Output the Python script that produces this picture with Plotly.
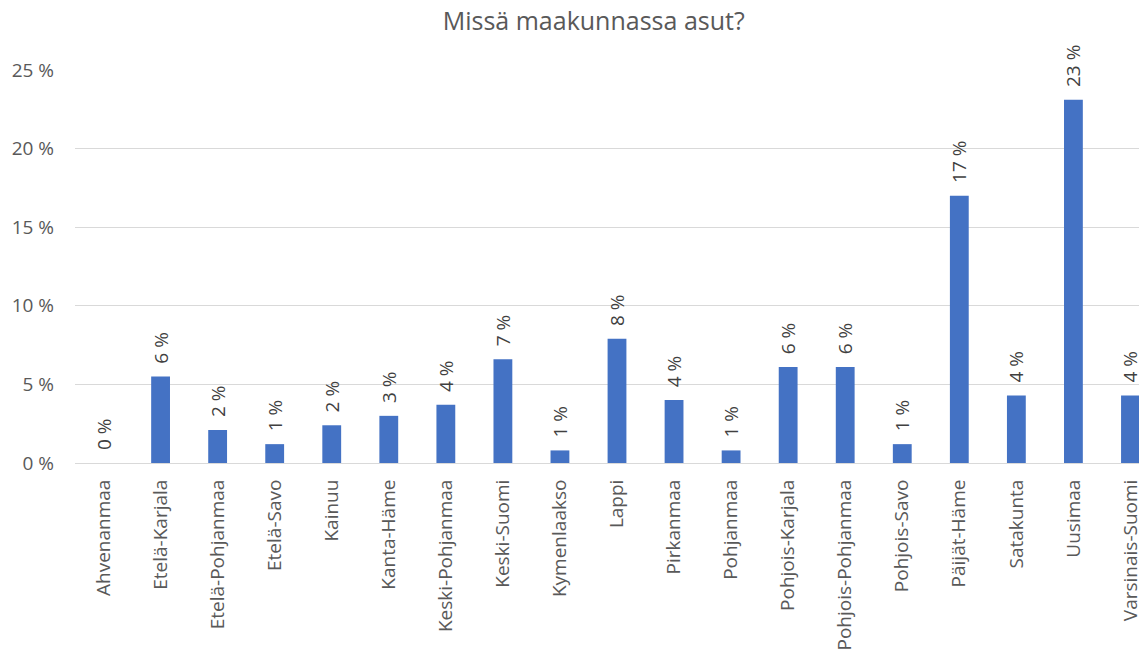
import plotly.graph_objects as go

regions = [
    "Ahvenanmaa", "Etelä-Karjala", "Etelä-Pohjanmaa", "Etelä-Savo", "Kainuu",
    "Kanta-Häme", "Keski-Pohjanmaa", "Keski-Suomi", "Kymenlaakso", "Lappi",
    "Pirkanmaa", "Pohjanmaa", "Pohjois-Karjala", "Pohjois-Pohjanmaa",
    "Pohjois-Savo", "Päijät-Häme", "Satakunta", "Uusimaa", "Varsinais-Suomi",
]
shares = [
    0.0, 5.5, 2.1, 1.2, 2.4,
    3.0, 3.7, 6.6, 0.8, 7.9,
    4.0, 0.8, 6.1, 6.1,
    1.2, 17.0, 4.3, 23.1, 4.3,
]
y_ticks = [0, 5, 10, 15, 20, 25]
y_tick_labels = [f"{v} %" for v in y_ticks]

FONT = "Open Sans, Calibri, sans-serif"

fig = go.Figure(
    go.Bar(
        x=regions,
        y=shares,
        marker=dict(color="#4472c4", line=dict(width=0)),
        # leading nbsp lifts the rotated label off the bar top
        texttemplate="\u00a0\u00a0%{y:.0f} %",
        textposition="outside",
        textangle=-90,
        constraintext="none",
        cliponaxis=False,
        textfont=dict(family=FONT, size=19, color="#404040"),
    )
)

# page has an 8px body margin; the plot runs a little past the right edge,
# as in the reference
fig.update_layout(
    width=1153,
    height=649,
    plot_bgcolor="white",
    paper_bgcolor="white",
    margin=dict(l=67, r=2, t=62, b=194),
    bargap=0.67,
    showlegend=False,
    font=dict(family=FONT, size=17, color="#595959"),
    title=dict(
        text="Missä maakunnassa asut?",
        x=0.508,
        xanchor="center",
        y=0.993,
        yanchor="top",
        pad=dict(t=0),
        font=dict(family=FONT, size=25, color="#595959"),
    ),
)
fig.update_xaxes(
    tickangle=-90,
    showline=True,
    linecolor="#d9d9d9",
    linewidth=1,
    ticks="",
    ticklabelstandoff=8,
    tickfont=dict(size=19, color="#595959"),
)
fig.update_yaxes(
    range=[0, 25],
    tickmode="array",
    tickvals=y_ticks,
    ticktext=y_tick_labels,
    showgrid=True,
    gridcolor="#d9d9d9",
    gridwidth=1,
    zeroline=False,
    ticks="",
    ticklabelstandoff=20,
    tickfont=dict(size=19, color="#595959"),
)

fig.write_html("out.html")
